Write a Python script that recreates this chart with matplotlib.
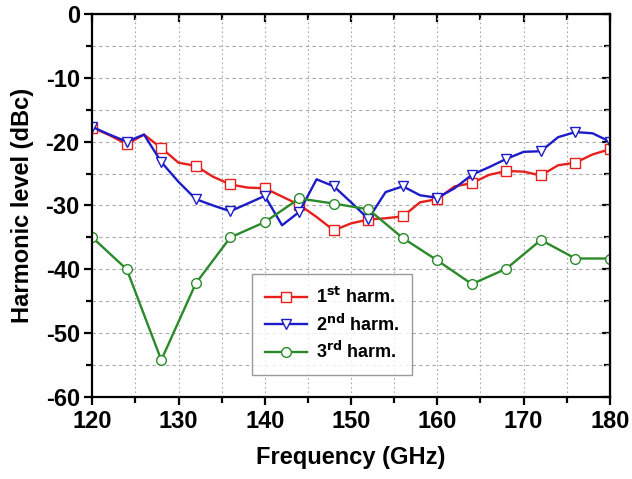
import numpy as np
import matplotlib.pyplot as plt
from matplotlib.ticker import MultipleLocator

plt.rcParams['font.family'] = ['Liberation Sans', 'DejaVu Sans']
plt.rcParams['font.weight'] = 'bold'
plt.rcParams['axes.unicode_minus'] = False

# 1st and 2nd harmonic sampled every 2 GHz (markers every 4 GHz)
freq_fine = np.arange(120, 181, 2)
harm1 = [-17.8, -19.0, -20.4, -18.9, -21.0, -23.3, -23.8, -25.5, -26.7, -27.2,
         -27.3, -28.6, -29.9, -31.8, -33.9, -32.8, -32.2, -32.0, -31.7, -29.5,
         -29.0, -27.0, -26.5, -25.2, -24.6, -24.7, -25.3, -23.7, -23.3, -22.0,
         -21.2]
harm2 = [-17.7, -18.9, -20.0, -18.9, -23.2, -26.3, -29.0, -30.0, -30.9, -29.7,
         -28.5, -33.1, -31.0, -25.9, -27.0, -29.5, -32.1, -27.9, -27.0, -28.4,
         -28.8, -27.3, -25.2, -24.0, -22.7, -21.6, -21.5, -19.3, -18.5, -18.7,
         -20.0]

# 3rd harmonic sampled every 4 GHz
freq_coarse = np.arange(120, 181, 4)
harm3 = [-35.0, -40.0, -54.2, -42.2, -35.0, -32.6, -28.9, -29.7, -30.6, -35.1,
         -38.6, -42.3, -39.9, -35.4, -38.3, -38.3]

fig = plt.figure(figsize=(6.32, 4.79), dpi=100)
ax = fig.add_axes([0.146, 0.171, 0.819, 0.80])

mk = dict(markersize=7, markerfacecolor='white', markeredgewidth=1.0)
ax.plot(freq_fine, harm1, '-s', color='#e8201c', lw=1.7, markevery=2,
        label='1$^{\\mathbf{st}}$ harm.', **mk)
ax.plot(freq_fine, harm2, '-v', color='#1c1cc8', lw=1.7, markevery=2,
        label='2$^{\\mathbf{nd}}$ harm.', **mk)
ax.plot(freq_coarse, harm3, '-o', color='#2a8a2a', lw=1.7,
        label='3$^{\\mathbf{rd}}$ harm.', **mk)

ax.set_xlim(120, 180)
ax.set_ylim(-60, 0)
ax.xaxis.set_major_locator(MultipleLocator(10))
ax.xaxis.set_minor_locator(MultipleLocator(5))
ax.yaxis.set_major_locator(MultipleLocator(10))
ax.yaxis.set_minor_locator(MultipleLocator(5))

ax.grid(axis='x', which='both', color='#a8a8a8', ls=(0, (1.5, 2.5)), lw=0.8)
ax.grid(axis='y', which='both', color='#a8a8a8', ls=(0, (3, 3)), lw=0.8)
ax.set_axisbelow(True)

for s in ax.spines.values():
    s.set_linewidth(1.6)
ax.tick_params(which='major', direction='out', length=6, width=1.6,
               labelsize=17, pad=3)
ax.tick_params(which='minor', direction='out', length=4, width=1.6)

# inward ticks on the top and right frame
top = ax.secondary_xaxis('top')
top.xaxis.set_major_locator(MultipleLocator(10))
top.xaxis.set_minor_locator(MultipleLocator(5))
top.tick_params(which='major', direction='in', length=6, width=1.6, labeltop=False)
top.tick_params(which='minor', direction='in', length=4, width=1.6)
right = ax.secondary_yaxis('right')
right.yaxis.set_major_locator(MultipleLocator(10))
right.yaxis.set_minor_locator(MultipleLocator(5))
right.tick_params(which='major', direction='in', length=6, width=1.6, labelright=False)
right.tick_params(which='minor', direction='in', length=4, width=1.6)

ax.set_xlabel('Frequency (GHz)', fontsize=17, fontweight='bold', labelpad=10)
ax.set_ylabel('Harmonic level (dBc)', fontsize=17, fontweight='bold', labelpad=8)

leg = ax.legend(loc='lower left', bbox_to_anchor=(0.292, 0.035),
                frameon=True, fancybox=False, edgecolor='#808080',
                handlelength=2.3, handletextpad=0.5, borderpad=0.7,
                labelspacing=0.35, prop={'weight': 'bold', 'size': 13})
leg.get_frame().set_linewidth(1.0)

fig.savefig('out.png', dpi=100)
